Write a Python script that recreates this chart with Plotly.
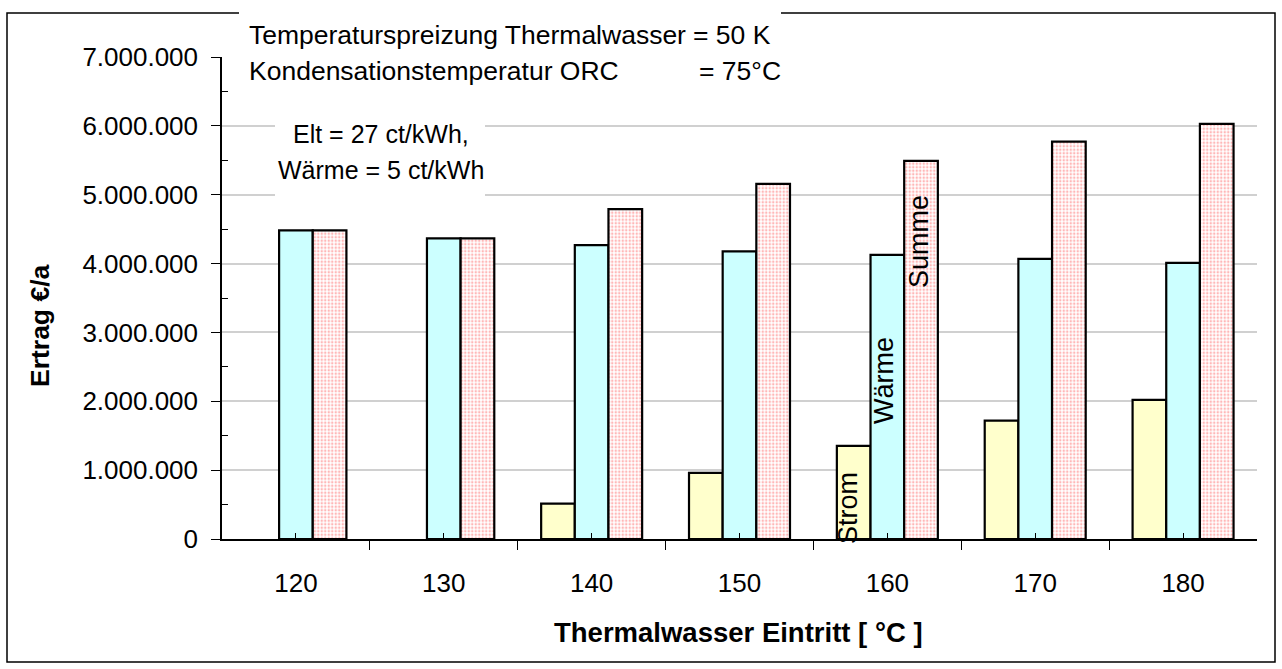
import plotly.graph_objects as go

# Thermalwasser inlet temperatures (°C) and annual revenue per component (€/a)
categories = ["120", "130", "140", "150", "160", "170", "180"]
strom = [None, None, 515000, 960000, 1353000, 1720000, 2020000]
waerme = [4483000, 4366000, 4268000, 4176000, 4126000, 4068000, 4010000]
summe = [4483000, 4366000, 4790000, 5156000, 5490000, 5770000, 6030000]

y_tickvals = [0, 1e6, 2e6, 3e6, 4e6, 5e6, 6e6, 7e6]
y_ticktext = ["0", "1.000.000", "2.000.000", "3.000.000", "4.000.000",
              "5.000.000", "6.000.000", "7.000.000"]

xpos = list(range(len(categories)))

FONT = "Liberation Sans, Arial, sans-serif"
W, H = 1282, 669
L, R, T, B = 222, 25, 57, 130
PW, PH = W - L - R, H - T - B


def px(xp):
    return (xp - L) / PW


def py(yp):
    return (H - B - yp) / PH


fig = go.Figure()
fig.add_bar(x=xpos, y=strom, name="Strom",
            marker=dict(color="#FFFFCC", line=dict(color="black", width=2.2)))
fig.add_bar(x=xpos, y=waerme, name="Wärme",
            marker=dict(color="#CCFFFF", line=dict(color="black", width=2.2)))
fig.add_bar(x=xpos, y=summe, name="Summe",
            marker=dict(color="white", line=dict(color="black", width=2.2),
                        pattern=dict(shape=".", fgcolor="#ff7070", bgcolor="white",
                                     size=3.5, solidity=0.4)))

shapes = [
    # outer chart frame
    dict(type="rect", xref="paper", yref="paper", x0=px(7), x1=px(1275),
         y0=py(662), y1=py(13), line=dict(color="black", width=1.5),
         fillcolor="rgba(0,0,0,0)", layer="above"),
    # white background of the parameter box
    dict(type="rect", xref="paper", yref="paper", x0=px(239), x1=px(781),
         y0=py(95), y1=py(5), line=dict(width=0), fillcolor="white", layer="above"),
    # white background of the price box
    dict(type="rect", xref="paper", yref="paper", x0=px(275), x1=px(485),
         y0=py(198), y1=py(108), line=dict(width=0), fillcolor="white", layer="above"),
]

box_font = dict(family=FONT, size=26.5, color="black")
price_font = dict(family=FONT, size=25, color="black")
label_font = dict(family=FONT, size=27, color="black")
title_font = dict(family=FONT, size=26.5, color="black")
annotations = [
    dict(text="Temperaturspreizung Thermalwasser", x=px(247), y=py(35),
         xanchor="left", yanchor="middle", font=box_font),
    dict(text="= 50 K", x=px(691), y=py(35), xanchor="left", yanchor="middle",
         font=box_font),
    dict(text="Kondensationstemperatur ORC", x=px(247), y=py(71),
         xanchor="left", yanchor="middle", font=box_font),
    dict(text="= 75°C", x=px(697), y=py(71), xanchor="left", yanchor="middle",
         font=box_font),
    dict(text="Elt = 27 ct/kWh,", x=px(381), y=py(134), xanchor="center",
         yanchor="middle", font=price_font),
    dict(text="Wärme = 5 ct/kWh", x=px(381), y=py(170), xanchor="center",
         yanchor="middle", font=price_font),
    # series names written into the 160 °C group
    dict(text="Strom", x=px(848), y=py(508), textangle=-90,
         xanchor="center", yanchor="middle", font=label_font),
    dict(text="Wärme", x=px(884), y=py(381), textangle=-90,
         xanchor="center", yanchor="middle", font=label_font),
    dict(text="Summe", x=px(919), y=py(242), textangle=-90,
         xanchor="center", yanchor="middle", font=label_font),
    # axis titles
    dict(text="<b>Ertrag €/a</b>", x=px(40), y=py(326), textangle=-90,
         xanchor="center", yanchor="middle", font=title_font),
    dict(text="<b>Thermalwasser Eintritt [ °C ]</b>", x=px(738), y=py(632),
         xanchor="center", yanchor="middle",
         font=dict(family=FONT, size=27.5, color="black")),
]
for a in annotations:
    a.update(xref="paper", yref="paper", showarrow=False)

fig.update_layout(
    width=W, height=H,
    margin=dict(l=L, r=R, t=T, b=B),
    paper_bgcolor="white", plot_bgcolor="white",
    barmode="group", bargap=0.317, bargroupgap=0,
    showlegend=False,
    font=dict(family=FONT, size=26, color="black"),
    shapes=shapes, annotations=annotations,
)
fig.update_xaxes(
    range=[-0.5, len(categories) - 0.5],
    tickmode="array", tickvals=xpos, ticktext=categories,
    ticks="inside", ticklen=6, tickcolor="black", tickwidth=1,
    ticklabelstandoff=20,
    minor=dict(tickmode="array", tickvals=[i - 0.5 for i in range(len(categories) + 1)],
               ticks="outside", ticklen=9, tickcolor="black", tickwidth=1),
    showline=True, linecolor="black", linewidth=1.5,
    showgrid=False, zeroline=False,
    tickfont=dict(family=FONT, size=26),
)
fig.update_yaxes(
    range=[0, 7e6],
    tickmode="array", tickvals=y_tickvals, ticktext=y_ticktext,
    ticks="outside", ticklen=9, tickcolor="black", tickwidth=1,
    ticklabelstandoff=8,
    minor=dict(tickmode="array", tickvals=[i * 1e6 + 5e5 for i in range(7)],
               ticks="inside", ticklen=6, tickcolor="black", tickwidth=1,
               showgrid=False),
    showline=True, linecolor="black", linewidth=1.5,
    showgrid=True, gridcolor="#d0d0d0", gridwidth=1.5,
    zeroline=False,
    tickfont=dict(family=FONT, size=26),
)

fig.write_html("out.html")
